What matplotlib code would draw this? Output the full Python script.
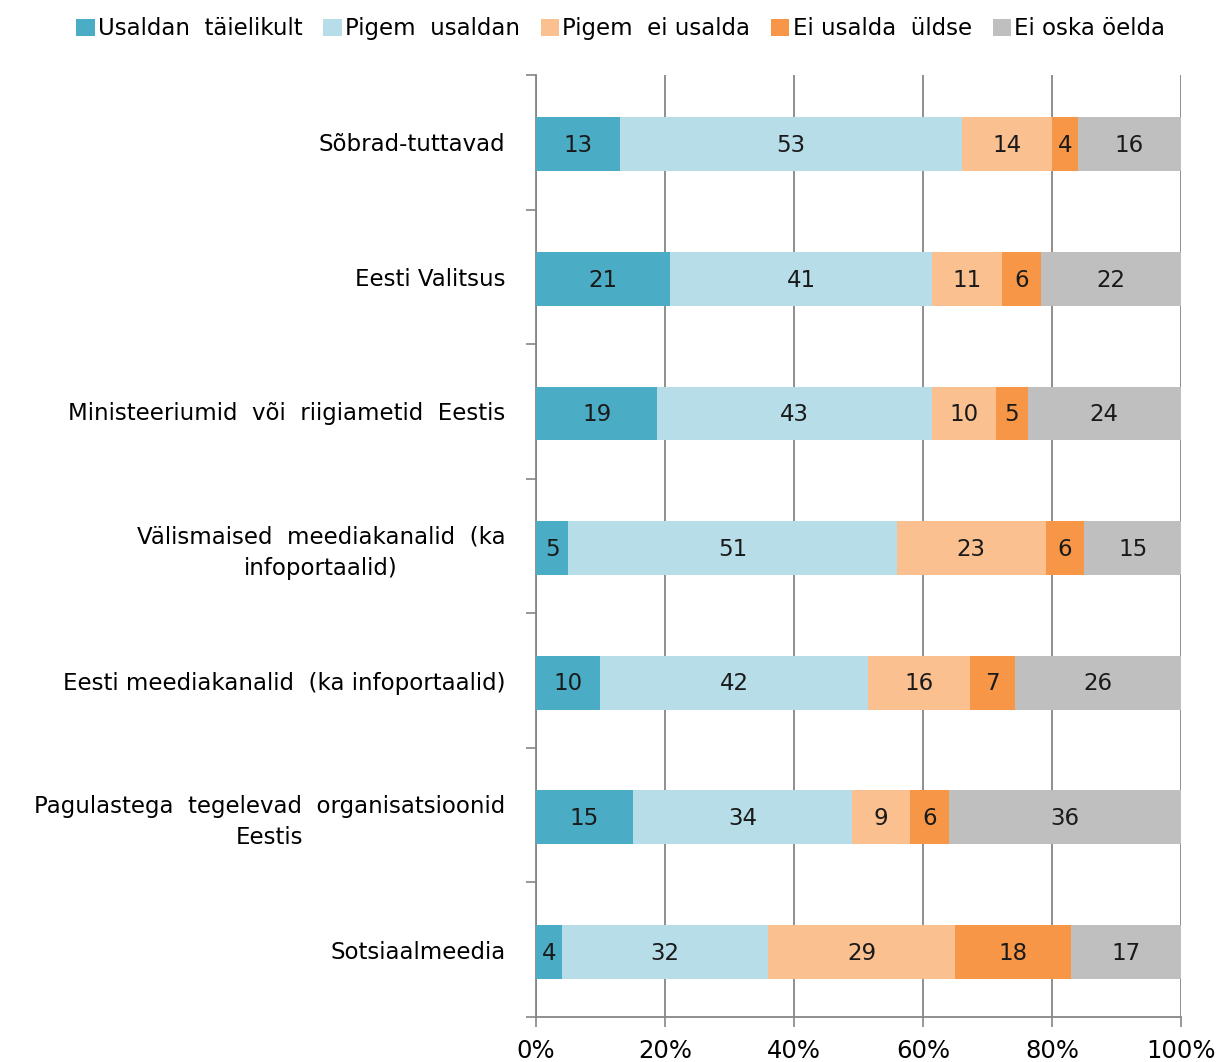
import numpy as np
import matplotlib.pyplot as plt

# Data (shares, %)
categories = [
    "Sõbrad-tuttavad",
    "Eesti Valitsus",
    "Ministeeriumid  või  riigiametid  Eestis",
    "Välismaised  meediakanalid  (ka\ninfoportaalid)",
    "Eesti meediakanalid  (ka infoportaalid)",
    "Pagulastega  tegelevad  organisatsioonid\nEestis",
    "Sotsiaalmeedia",
]
series_names = ["Usaldan  täielikult", "Pigem  usaldan", "Pigem  ei usalda",
                "Ei usalda  üldse", "Ei oska öelda"]
usaldan_taielikult = [13, 21, 19, 5, 10, 15, 4]
pigem_usaldan = [53, 41, 43, 51, 42, 34, 32]
pigem_ei_usalda = [14, 11, 10, 23, 16, 9, 29]
ei_usalda_uldse = [4, 6, 5, 6, 7, 6, 18]
ei_oska_oelda = [16, 22, 24, 15, 26, 36, 17]
x_ticks = [0, 20, 40, 60, 80, 100]

colors = ["#4BACC6", "#B7DEE8", "#FAC090", "#F79646", "#BFBFBF"]

plt.rcParams['font.family'] = ['DejaVu Sans']

values = np.array([usaldan_taielikult, pigem_usaldan, pigem_ei_usalda,
                   ei_usalda_uldse, ei_oska_oelda], dtype=float)
shares = values / values.sum(axis=0) * 100

fig = plt.figure(figsize=(12.22, 10.62), dpi=100)
ax = fig.add_axes([536 / 1222, 1 - 1017 / 1062, 645 / 1222, 942 / 1062])

y = np.arange(len(categories))
left = np.zeros(len(categories))
handles = []
for i, name in enumerate(series_names):
    h = ax.barh(y + 0.015, shares[i], left=left, height=0.4, color=colors[i],
                label=name, zorder=3)
    handles.append(h)
    for j in range(len(categories)):
        ax.text(left[j] + shares[i][j] / 2, y[j] + 0.025, f"{int(values[i][j])}",
                ha='center', va='center', fontsize=16.5, color='#1a1a1a', zorder=4)
    left += shares[i]

ax.set_xlim(0, 100)
ax.set_ylim(len(categories) - 0.5, -0.5)
ax.set_xticks(x_ticks)
ax.set_xticklabels([f"{t}%" for t in x_ticks], fontsize=17.5)
ax.set_yticks(np.arange(-0.5, len(categories), 1))
ax.set_yticklabels([])
ax.set_yticks(y, minor=True)
ax.set_yticklabels(categories, minor=True, fontsize=16.5, ha='right',
                   multialignment='center', linespacing=1.45)
ax.tick_params(axis='y', which='minor', length=0, pad=22)
ax.tick_params(axis='y', which='major', length=7, color='#868686', width=1.2)
ax.tick_params(axis='x', length=7, color='#868686', width=1.2, pad=9)

ax.grid(axis='x', color='#868686', linewidth=1.3, zorder=0)
for s in ['top', 'right']:
    ax.spines[s].set_visible(False)
for s in ['left', 'bottom']:
    ax.spines[s].set_color('#868686')
    ax.spines[s].set_linewidth(1.3)

fig.legend(handles=handles, loc='upper center', bbox_to_anchor=(0.508, 1.003),
           ncol=5, frameon=False, fontsize=16.5, handlelength=0.8,
           handleheight=0.8, handletextpad=0.15, columnspacing=0.9)

fig.savefig("out.png", dpi=100)
